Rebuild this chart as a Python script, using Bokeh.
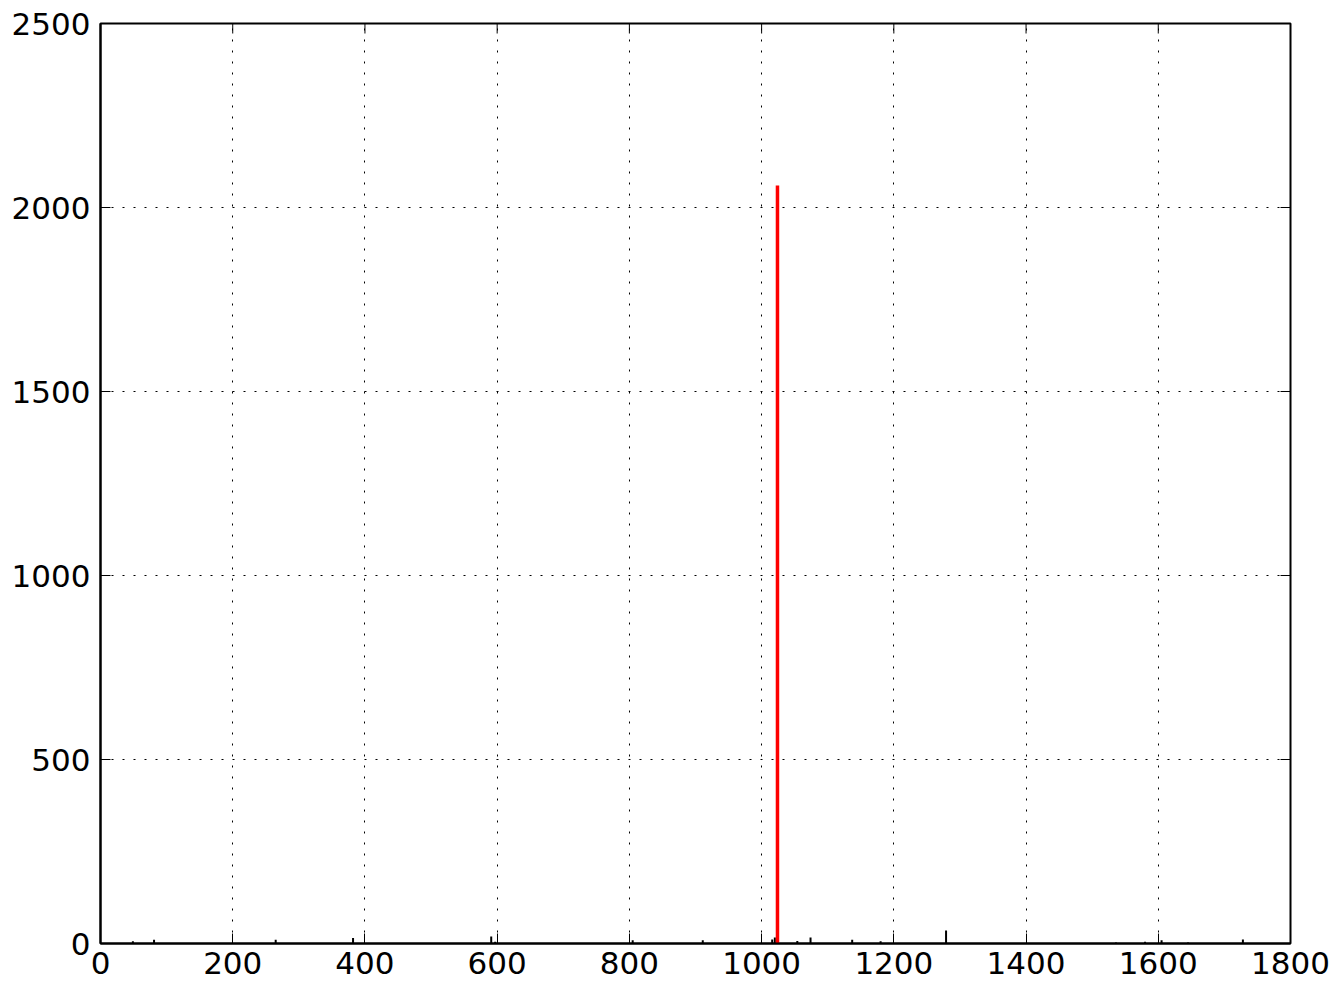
import math
from bokeh.plotting import figure
from bokeh.models import Range1d, FixedTicker, Label, ColumnDataSource
from bokeh.embed import file_html
from bokeh.resources import INLINE

title_text = "stu-miR6027/PGSC0003DMT400031039"

x_ticks = [0, 200, 400, 600, 800, 1000, 1200, 1400, 1600, 1800]
y_ticks = [0, 500, 1000, 1500, 2000, 2500]

# small black bars (position, count)
black_x = [49, 81, 265, 382, 591, 597, 805, 911, 1016, 1020, 1054, 1074, 1137, 1180, 1279, 1536, 1580, 1605, 1645, 1728]
black_h = [6, 10, 10, 15, 19, 5, 9, 9, 11, 16, 7, 16, 10, 6, 35, 3, 5, 9, 3, 11]

# highlighted red bar
red_x = [1024]
red_h = [2060]

FONT = "DejaVu Sans"
X_MIN, X_MAX = 0, 1800
Y_MIN, Y_MAX = 0, 2500

p = figure(frame_width=1190, frame_height=920,
           x_range=Range1d(X_MIN, X_MAX), y_range=Range1d(Y_MIN, Y_MAX),
           output_backend="svg", toolbar_location=None,
           min_border_left=100, min_border_top=23,
           min_border_right=44, min_border_bottom=42)

p.outline_line_color = "black"
p.outline_line_width = 2
p.background_fill_color = "white"
p.border_fill_color = "white"

for ax, ticks in ((p.xaxis[0], x_ticks), (p.yaxis[0], y_ticks)):
    ax.ticker = FixedTicker(ticks=ticks)
    ax.major_tick_in = 10
    ax.major_tick_out = 0
    ax.major_tick_line_color = "black"
    ax.major_tick_line_width = 1
    ax.minor_tick_line_color = None
    ax.axis_line_color = "black"
    ax.axis_line_width = 2
    ax.major_label_text_font = FONT
    ax.major_label_text_font_size = "31px"
    ax.major_label_text_color = "black"

p.xaxis[0].major_label_standoff = 8
p.yaxis[0].major_label_standoff = 10

for g, ticks in ((p.xgrid[0], x_ticks), (p.ygrid[0], y_ticks)):
    g.ticker = FixedTicker(ticks=ticks)
    g.grid_line_color = "black"
    g.grid_line_width = 1
    g.grid_line_dash = "2 9"

# inward ticks on the top and right edges (half of each dash is clipped by the frame)
top_src = ColumnDataSource(dict(x=x_ticks, y=[Y_MAX] * len(x_ticks)))
p.scatter(x="x", y="y", source=top_src, marker="dash", size=20, angle=math.pi / 2,
          line_color="black", line_width=1)
right_src = ColumnDataSource(dict(x=[X_MAX] * len(y_ticks), y=y_ticks))
p.scatter(x="x", y="y", source=right_src, marker="dash", size=20,
          line_color="black", line_width=1)

black_src = ColumnDataSource(dict(x=black_x, y0=[0] * len(black_x), h=black_h))
p.segment(x0="x", y0="y0", x1="x", y1="h", source=black_src, line_color="black", line_width=2)

red_src = ColumnDataSource(dict(x=red_x, y0=[0] * len(red_x), h=red_h))
p.segment(x0="x", y0="y0", x1="x", y1="h", source=red_src, line_color="red", line_width=3.5)

title = Label(x=(X_MIN + X_MAX) / 2, y=Y_MAX, x_units="data", y_units="data", y_offset=1,
              text=title_text, text_align="center", text_baseline="bottom",
              text_font=FONT, text_font_size="53px", text_color="black")
p.add_layout(title)

open("out.html", "w").write(file_html(p, INLINE))
